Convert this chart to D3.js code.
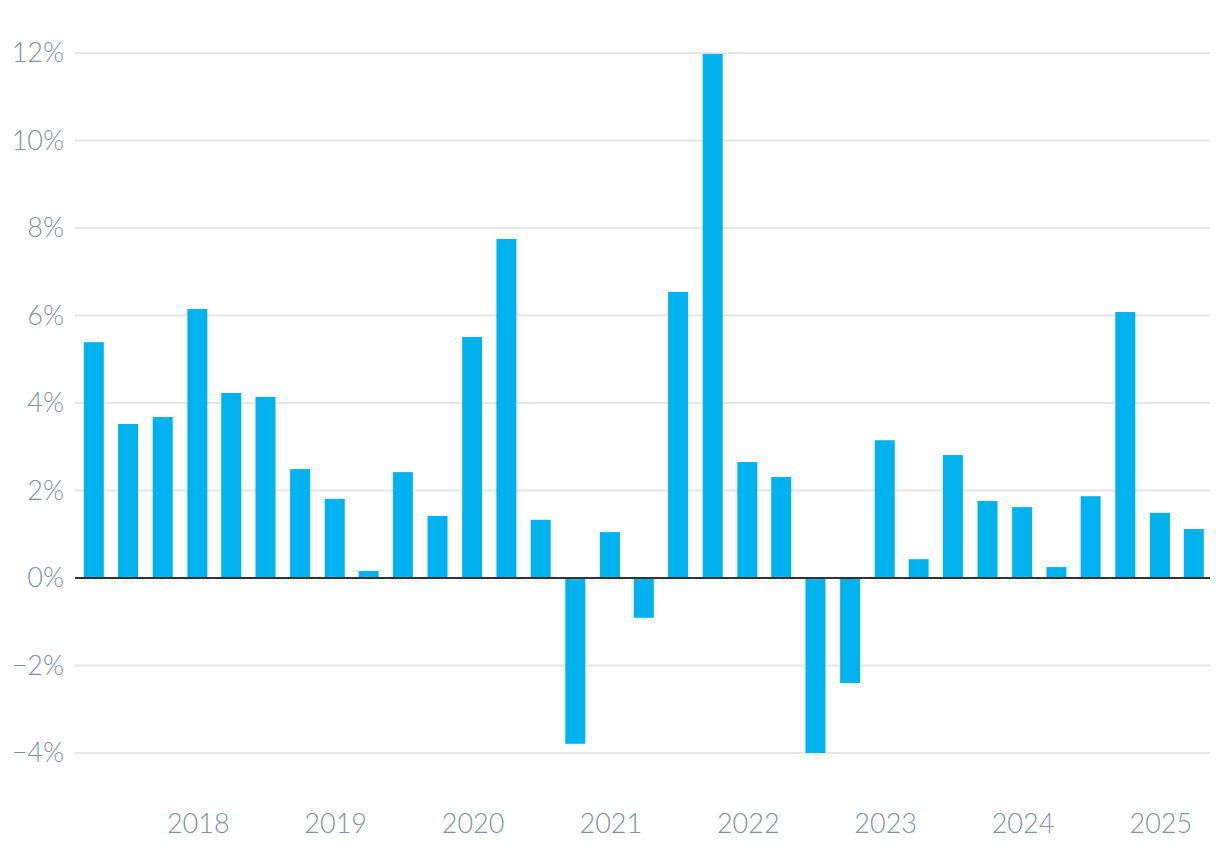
<!DOCTYPE html>
<html>
<head>
<meta charset="utf-8">
<script src="https://cdn.jsdelivr.net/npm/d3@7"></script>
<style>
  body { margin: 0; background: #fff; }
  .axis text { font-family: Lato, sans-serif; font-weight: 300; fill: #7f939d; }
</style>
</head>
<body>
<div class="canvas"></div>
<script>
// quarter end dates, 2017 Q1 .. 2025 Q1
const quarters = d3.timeMonth.range(new Date(2017, 2, 1), new Date(2025, 3, 1), 3)
    .map(d => d3.timeDay.offset(d3.timeMonth.offset(d, 1), -1));

const values = [5.39, 3.52, 3.68, 6.15, 4.23, 4.14, 2.49, 1.81, 0.16, 2.42, 1.42,
    5.51, 7.75, 1.33, -3.79, 1.05, -0.91, 6.54, 11.98, 2.65, 2.31, -4.0, -2.4,
    3.15, 0.43, 2.81, 1.76, 1.62, 0.25, 1.87, 6.08, 1.49, 1.12];

const yTicks = [-4, -2, 0, 2, 4, 6, 8, 10, 12];
const xTicks = [2018, 2019, 2020, 2021, 2022, 2023, 2024, 2025];

const data = quarters.map((d, i) => ({ date: d, value: values[i] }));

const width = 1220, height = 860;
const margin = { top: 53, right: 10, bottom: 107, left: 75 };

const svg = d3.select('.canvas')
    .append('svg')
    .attr('width', width)
    .attr('height', height);

const x = d3.scaleTime()
    .domain([new Date(2017, 1, 9), new Date(2025, 4, 13)])
    .range([margin.left, width - margin.right]);

const y = d3.scaleLinear()
    .domain([-4, 12])
    .range([height - margin.bottom, margin.top]);

// grid lines
svg.append('g')
    .selectAll('line')
    .data(yTicks.filter(t => t !== 0))
    .enter().append('line')
        .attr('x1', margin.left)
        .attr('x2', width - margin.right)
        .attr('y1', d => y(d))
        .attr('y2', d => y(d))
        .attr('stroke', '#e6e6e6')
        .attr('stroke-width', 2);

// y labels
const yAxis = d3.axisLeft(y)
    .tickValues(yTicks)
    .tickSize(0)
    .tickPadding(0)
    .tickFormat(d => (d < 0 ? '\u2212' : '') + Math.abs(d) + '%');

const yAxisGroup = svg.append('g')
    .attr('class', 'axis')
    .attr('transform', `translate(64,0)`)
    .call(yAxis);
yAxisGroup.select('.domain').remove();
yAxisGroup.selectAll('text').attr('font-size', 27).attr('font-family', null);

// bars
const barW = 20;
svg.append('g')
    .selectAll('rect')
    .data(data)
    .enter().append('rect')
        .attr('x', d => x(d.date) - barW / 2)
        .attr('width', barW)
        .attr('y', d => y(Math.max(0, d.value)))
        .attr('height', d => Math.abs(y(d.value) - y(0)))
        .attr('fill', '#00b3ef');

// zero line
svg.append('line')
    .attr('x1', margin.left)
    .attr('x2', width - margin.right)
    .attr('y1', y(0))
    .attr('y2', y(0))
    .attr('stroke', '#333')
    .attr('stroke-width', 2);

// x labels
const xAxis = d3.axisBottom(x)
    .tickValues(xTicks.map(yr => new Date(yr, 0, 1)))
    .tickSize(0)
    .tickPadding(0)
    .tickFormat(d3.timeFormat('%Y'));

const xAxisGroup = svg.append('g')
    .attr('class', 'axis')
    .attr('transform', `translate(0,814)`)
    .call(xAxis);
xAxisGroup.select('.domain').remove();
xAxisGroup.selectAll('text').attr('font-size', 27).attr('font-family', null).attr('dy', '0.71em');
</script>
</body>
</html>
